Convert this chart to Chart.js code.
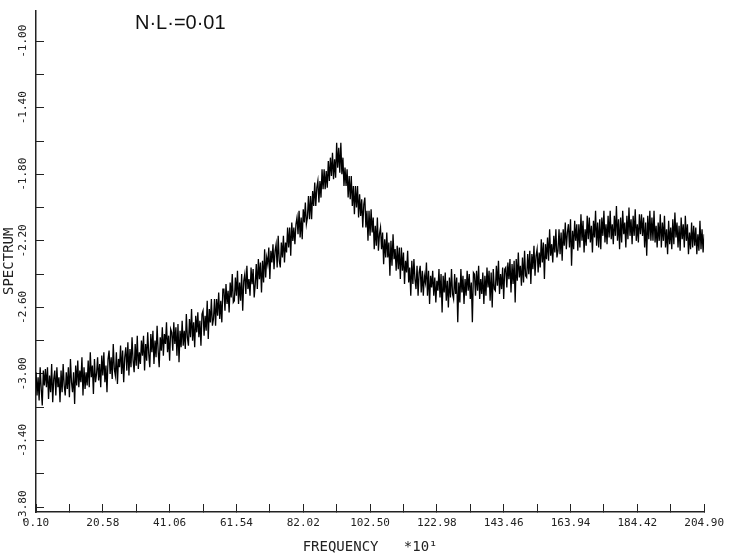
<!DOCTYPE html>
<html>
<head>
<meta charset="utf-8">
<script src="https://cdn.jsdelivr.net/npm/chart.js@4.4.1/dist/chart.umd.min.js"></script>
<style>
   html, body { margin: 0; padding: 0; background: #fff; }
   #wrap { position: relative; width: 737px; height: 560px; }
   #note {
      position: absolute; left: 135px; top: 11px;
      font: 20px "Liberation Sans", "DejaVu Sans", sans-serif; color: #111;
   }
</style>
</head>
<body>
<div id="wrap">
   <canvas id="chart"></canvas>
   <div id="note">N·L·=0·01</div>
</div>
<script>
'use strict';

// frequency bins (units of 10^1)
const freqStart = 0.10;
const freqStep = 0.32;

// spectrum, one value per bin
const spectrum = [
   -2.99, -3.13, -3.02, -3.16, -2.96, -3.09, -3.19, -2.98, -3.07, -2.97,
   -3.08, -2.96, -3.15, -3.01, -3.11, -2.94, -3.17, -3.03, -2.98, -3.13,
   -2.96, -3.08, -3.02, -3.17, -2.98, -3.11, -2.94, -3.07, -3.13, -2.99,
   -3.09, -2.96, -3.14, -2.91, -3.05, -3.11, -2.99, -3.18, -2.95, -3.07,
   -2.92, -3.08, -2.98, -3.05, -2.90, -3.13, -2.96, -3.09, -2.99, -3.07,
   -2.92, -3.08, -2.87, -3.02, -2.95, -3.12, -2.91, -3.05, -3.00, -2.90,
   -3.04, -2.94, -3.08, -2.89, -3.01, -2.87, -3.05, -2.95, -3.11, -2.91,
   -2.86, -3.00, -2.90, -3.03, -2.82, -2.97, -3.01, -2.87, -3.06, -2.91,
   -2.96, -2.83, -3.00, -2.86, -3.05, -2.90, -2.84, -2.98, -2.81, -3.01,
   -2.85, -2.96, -2.78, -2.92, -2.99, -2.82, -2.95, -2.77, -2.97, -2.87,
   -2.94, -2.80, -2.89, -2.77, -2.98, -2.82, -2.92, -2.75, -2.88, -2.96,
   -2.76, -2.87, -2.74, -2.94, -2.80, -2.90, -2.71, -2.86, -2.96, -2.78,
   -2.86, -2.72, -2.89, -2.76, -2.82, -2.69, -2.87, -2.77, -2.92, -2.73,
   -2.75, -2.86, -2.69, -2.82, -2.72, -2.89, -2.70, -2.93, -2.74, -2.84,
   -2.68, -2.83, -2.74, -2.85, -2.64, -2.78, -2.83, -2.67, -2.78, -2.61,
   -2.80, -2.69, -2.84, -2.65, -2.75, -2.63, -2.78, -2.68, -2.83, -2.64,
   -2.62, -2.77, -2.65, -2.74, -2.56, -2.79, -2.61, -2.69, -2.55, -2.71,
   -2.67, -2.55, -2.71, -2.55, -2.65, -2.51, -2.67, -2.56, -2.69, -2.49,
   -2.49, -2.62, -2.46, -2.58, -2.50, -2.63, -2.45, -2.54, -2.40, -2.57,
   -2.56, -2.42, -2.53, -2.38, -2.58, -2.45, -2.56, -2.40, -2.62, -2.44,
   -2.40, -2.52, -2.35, -2.49, -2.43, -2.53, -2.36, -2.46, -2.37, -2.54,
   -2.46, -2.34, -2.49, -2.31, -2.43, -2.33, -2.51, -2.32, -2.45, -2.25,
   -2.42, -2.30, -2.34, -2.24, -2.43, -2.26, -2.33, -2.22, -2.37, -2.26,
   -2.22, -2.36, -2.17, -2.32, -2.36, -2.21, -2.30, -2.17, -2.33, -2.21,
   -2.27, -2.12, -2.24, -2.12, -2.29, -2.09, -2.20, -2.12, -2.22, -2.10,
   -2.06, -2.16, -2.02, -2.18, -2.06, -2.19, -2.01, -2.09, -1.97, -2.10,
   -2.06, -1.93, -2.07, -1.93, -2.07, -1.90, -1.99, -1.85, -1.99, -1.88,
   -1.84, -1.97, -1.84, -1.94, -1.77, -1.89, -1.77, -1.89, -1.78, -1.88,
   -1.72, -1.84, -1.70, -1.81, -1.67, -1.83, -1.71, -1.82, -1.61, -1.76,
   -1.64, -1.79, -1.61, -1.80, -1.70, -1.87, -1.76, -1.87, -1.77, -1.94,
   -1.81, -1.95, -1.81, -1.99, -1.87, -2.04, -1.87, -2.00, -1.87, -2.06,
   -1.92, -2.05, -1.95, -2.12, -1.98, -1.94, -2.12, -2.02, -2.20, -2.02,
   -2.17, -2.01, -2.15, -2.06, -2.25, -2.11, -2.23, -2.06, -2.26, -2.16,
   -2.12, -2.25, -2.15, -2.34, -2.19, -2.30, -2.15, -2.30, -2.21, -2.41,
   -2.20, -2.35, -2.16, -2.31, -2.25, -2.38, -2.23, -2.37, -2.24, -2.43,
   -2.24, -2.38, -2.27, -2.46, -2.32, -2.39, -2.26, -2.45, -2.36, -2.53,
   -2.32, -2.46, -2.31, -2.43, -2.49, -2.35, -2.53, -2.39, -2.35, -2.51,
   -2.38, -2.53, -2.41, -2.45, -2.33, -2.53, -2.38, -2.58, -2.41, -2.48,
   -2.38, -2.53, -2.42, -2.57, -2.44, -2.50, -2.37, -2.54, -2.40, -2.63,
   -2.41, -2.51, -2.39, -2.56, -2.44, -2.60, -2.42, -2.54, -2.37, -2.52,
   -2.55, -2.40, -2.52, -2.42, -2.69, -2.45, -2.57, -2.37, -2.51, -2.41,
   -2.58, -2.43, -2.53, -2.38, -2.50, -2.40, -2.55, -2.45, -2.69, -2.39,
   -2.40, -2.53, -2.38, -2.50, -2.35, -2.55, -2.43, -2.52, -2.39, -2.58,
   -2.41, -2.53, -2.36, -2.48, -2.38, -2.56, -2.39, -2.60, -2.37, -2.49,
   -2.50, -2.35, -2.47, -2.32, -2.52, -2.40, -2.49, -2.36, -2.55, -2.37,
   -2.36, -2.48, -2.33, -2.43, -2.31, -2.51, -2.34, -2.46, -2.32, -2.57,
   -2.31, -2.44, -2.27, -2.42, -2.35, -2.47, -2.30, -2.45, -2.26, -2.41,
   -2.42, -2.28, -2.40, -2.26, -2.46, -2.28, -2.37, -2.23, -2.41, -2.29,
   -2.25, -2.39, -2.27, -2.36, -2.19, -2.33, -2.21, -2.43, -2.22, -2.31,
   -2.18, -2.32, -2.13, -2.29, -2.22, -2.33, -2.17, -2.27, -2.13, -2.30,
   -2.26, -2.13, -2.28, -2.15, -2.32, -2.13, -2.23, -2.09, -2.25, -2.15,
   -2.10, -2.24, -2.07, -2.35, -2.14, -2.25, -2.08, -2.20, -2.10, -2.26,
   -2.10, -2.24, -2.04, -2.20, -2.08, -2.27, -2.13, -2.23, -2.05, -2.19,
   -2.06, -2.21, -2.11, -2.27, -2.08, -2.18, -2.02, -2.23, -2.09, -2.24,
   -2.07, -2.25, -2.06, -2.17, -2.02, -2.21, -2.10, -2.22, -2.05, -2.18,
   -2.02, -2.19, -2.10, -2.22, -2.05, -2.17, -1.99, -2.20, -2.07, -2.25,
   -2.06, -2.21, -2.02, -2.16, -2.09, -2.24, -2.05, -2.19, -2.00, -2.17,
   -2.07, -2.22, -2.05, -2.17, -2.01, -2.20, -2.10, -2.21, -2.04, -2.16,
   -2.04, -2.17, -2.06, -2.24, -2.09, -2.29, -2.05, -2.19, -2.02, -2.20,
   -2.06, -2.20, -2.02, -2.21, -2.11, -2.24, -2.09, -2.20, -2.04, -2.24,
   -2.09, -2.20, -2.05, -2.24, -2.13, -2.28, -2.08, -2.22, -2.12, -2.25,
   -2.07, -2.22, -2.03, -2.18, -2.09, -2.24, -2.11, -2.26, -2.06, -2.19,
   -2.10, -2.24, -2.05, -2.20, -2.10, -2.28, -2.15, -2.25, -2.09, -2.24,
   -2.11, -2.23, -2.12, -2.28, -2.16, -2.26, -2.08, -2.25, -2.13, -2.27,
   -2.16
];

// axis ticks (labelled ones carry text, the others are plain marks)
const xTickValues = [
   0.10, 10.34, 20.58, 30.82, 41.06, 51.30, 61.54, 71.78, 82.02, 92.26, 102.50,
   112.74, 122.98, 133.22, 143.46, 153.70, 163.94, 174.18, 184.42, 194.66, 204.90
];
const xTickLabels = [
   '0.10', '', '20.58', '', '41.06', '', '61.54', '', '82.02', '', '102.50',
   '', '122.98', '', '143.46', '', '163.94', '', '184.42', '', '204.90'
];
const yTickValues = [
   -3.80, -3.60, -3.40, -3.20, -3.00, -2.80, -2.60, -2.40, -2.20, -2.00,
   -1.80, -1.60, -1.40, -1.20, -1.00
];
const yTickLabels = [
   '-3.80', '', '-3.40', '', '-3.00', '', '-2.60', '', '-2.20', '',
   '-1.80', '', '-1.40', '', '-1.00'
];

function getSeries(values) {
   const result = [];
   for (let i = 0; i < values.length; i++) {
      result.push({ x: freqStart + i * freqStep, y: values[i] });
   }
   return result;
}

function labelFor(values, labels) {
   return function (value) {
      const idx = values.findIndex(v => Math.abs(v - value) < 1e-6);
      return idx >= 0 ? labels[idx] : '';
   };
}

const monoFamily = '"DejaVu Sans Mono", "Liberation Mono", monospace';
const tickFont = { family: monoFamily, size: 11 };
const titleFont = { family: monoFamily, size: 14 };
const inkColor = '#222';

const config = {
   type: 'line',
   data: {
      datasets: [{
         label: 'SPECTRUM',
         data: getSeries(spectrum),
         borderColor: '#000',
         borderWidth: 1.3,
         pointRadius: 0,
         tension: 0,
         fill: false
      }]
   },
   options: {
      responsive: true,
      maintainAspectRatio: false,
      animation: false,
      layout: {
         padding: { left: 0, right: 26, top: 4, bottom: 0 }
      },
      scales: {
         x: {
            type: 'linear',
            min: freqStart,
            max: 204.90,
            afterBuildTicks: (scale) => {
               scale.ticks = xTickValues.map(v => ({ value: v }));
            },
            afterFit: (scale) => { scale.height = 48; },
            ticks: {
               autoSkip: false,
               maxRotation: 0,
               minRotation: 0,
               padding: 13,
               color: inkColor,
               font: tickFont,
               callback: labelFor(xTickValues, xTickLabels)
            },
            grid: {
               drawOnChartArea: false,
               drawTicks: true,
               tickLength: -8,
               color: inkColor,
               lineWidth: 1
            },
            border: { display: true, color: inkColor, width: 1.5 },
            title: {
               display: true,
               text: 'FREQUENCY   *10¹',
               color: inkColor,
               font: titleFont,
               padding: { top: 0, bottom: 4 }
            }
         },
         y: {
            type: 'linear',
            min: -3.83,
            max: -0.816,
            afterBuildTicks: (scale) => {
               scale.ticks = yTickValues.map(v => ({ value: v }));
            },
            afterFit: (scale) => { scale.width = 36; },
            ticks: {
               autoSkip: false,
               minRotation: 90,
               maxRotation: 90,
               crossAlign: 'center',
               padding: 4,
               color: inkColor,
               font: tickFont,
               callback: labelFor(yTickValues, yTickLabels)
            },
            grid: {
               drawOnChartArea: false,
               drawTicks: true,
               tickLength: -8,
               color: inkColor,
               lineWidth: 1
            },
            border: { display: true, color: inkColor, width: 1.5 },
            title: {
               display: true,
               text: 'SPECTRUM',
               color: inkColor,
               font: titleFont,
               padding: { top: 1, bottom: 0 }
            }
         }
      },
      plugins: {
         legend: { display: false },
         title: { display: false },
         tooltip: { enabled: false }
      }
   }
};

new Chart(document.getElementById('chart'), config);
</script>
</body>
</html>
